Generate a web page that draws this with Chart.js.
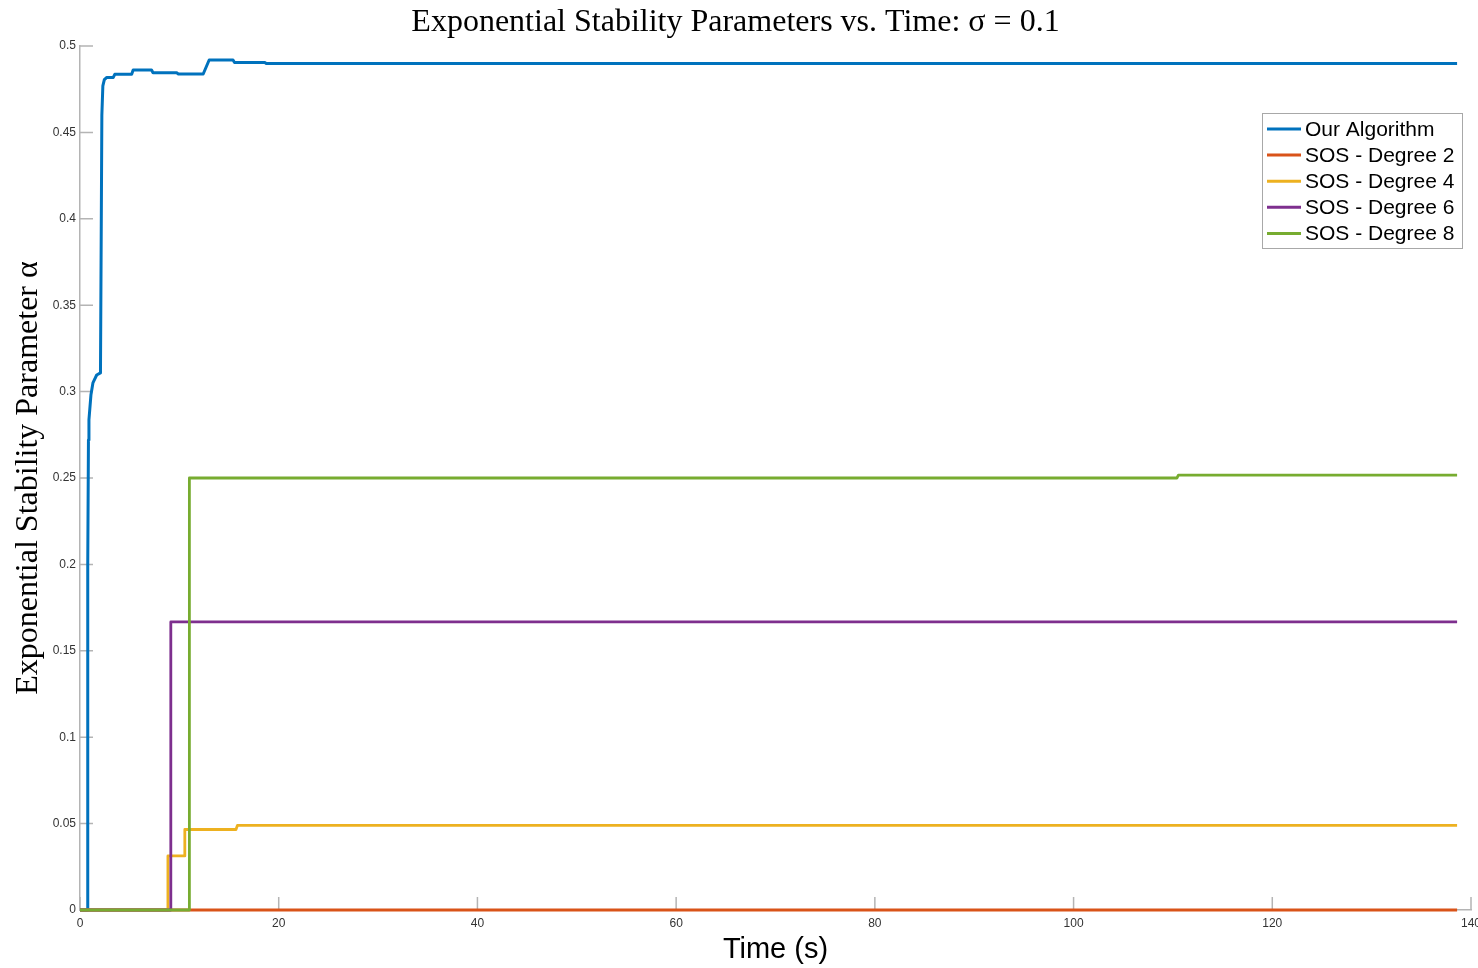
<!DOCTYPE html>
<html>
<head>
<meta charset="utf-8">
<title>Exponential Stability Parameters vs. Time</title>
<script src="https://cdn.jsdelivr.net/npm/chart.js@4.4.1/dist/chart.umd.min.js"></script>
<style>
  html, body { margin: 0; padding: 0; background: #ffffff; }
  #wrap { width: 1478px; height: 968px; position: relative; }
</style>
</head>
<body>
<div id="wrap"><canvas id="c" width="1478" height="968"></canvas></div>
<script>
// ---- data: time (s) and exponential stability parameter alpha ----
const seriesNames = ['Our Algorithm', 'SOS - Degree 2', 'SOS - Degree 4', 'SOS - Degree 6', 'SOS - Degree 8'];
const seriesColors = ['#0072BD', '#D95319', '#EDB120', '#7E2F8E', '#77AC30'];

const tOurs = [0, 0.73, 0.78, 0.85, 0.9, 1.1, 1.3, 1.68, 2.06, 2.2, 2.3, 2.45, 2.7, 3.35, 3.5, 5.2, 5.35, 7.2, 7.35, 9.73, 9.9, 12.4, 13.0, 15.4, 15.55, 18.6, 18.75, 138.6];
const aOurs = [0, 0, 0.2, 0.272, 0.2836, 0.298, 0.305, 0.3096, 0.3108, 0.46, 0.4769, 0.4805, 0.4818, 0.4818, 0.4836, 0.4836, 0.4861, 0.4861, 0.4845, 0.4845, 0.4838, 0.4838, 0.4919, 0.4919, 0.4905, 0.4905, 0.4899, 0.4899];

const tDeg2 = [0, 138.6];
const aDeg2 = [0, 0];

const tDeg4 = [0, 8.8, 8.85, 10.5, 10.55, 15.7, 15.85, 138.6];
const aDeg4 = [0, 0, 0.0313, 0.0313, 0.0466, 0.0466, 0.049, 0.049];

const tDeg6 = [0, 9.13, 9.14, 138.6];
const aDeg6 = [0, 0, 0.1667, 0.1667];

const tDeg8 = [0, 11.0, 11.01, 110.4, 110.55, 138.6];
const aDeg8 = [0, 0, 0.25, 0.25, 0.2517, 0.2517];

const seriesTimes = [tOurs, tDeg2, tDeg4, tDeg6, tDeg8];
const seriesValues = [aOurs, aDeg2, aDeg4, aDeg6, aDeg8];

const xTicks = [0, 20, 40, 60, 80, 100, 120, 140];
const xTickLabels = ['0', '20', '40', '60', '80', '100', '120', '140'];
const yTicks = [0, 0.05, 0.1, 0.15, 0.2, 0.25, 0.3, 0.35, 0.4, 0.45, 0.5];
const yTickLabels = ['0', '0.05', '0.1', '0.15', '0.2', '0.25', '0.3', '0.35', '0.4', '0.45', '0.5'];

const titleText = 'Exponential Stability Parameters vs. Time: σ = 0.1';
const xTitle = 'Time (s)';
const yTitle = 'Exponential Stability Parameter α';

// ---- styling ----
const AXIS_GRAY = '#b4b4b4';
const TICK_COLOR = '#333333';
const SANS = '"Liberation Sans", Arial, Helvetica, sans-serif';
const SERIF = '"Liberation Serif", "Times New Roman", serif';

const datasets = seriesNames.map((name, i) => ({
  label: name,
  data: seriesTimes[i].map((t, k) => ({ x: t, y: seriesValues[i][k] })),
  borderColor: seriesColors[i],
  backgroundColor: seriesColors[i],
  borderWidth: i === 0 ? 3 : 2.8,
  pointRadius: 0,
  tension: 0,
  fill: false,
  clip: false,
  borderJoinStyle: 'round',
  // later series sit on top of earlier ones
  order: seriesNames.length - 1 - i
}));

// tick marks drawn inward from the axes
const inwardTicks = {
  id: 'inwardTicks',
  beforeDatasetsDraw(chart) {
    const { ctx, chartArea } = chart;
    const len = 13;
    ctx.save();
    ctx.strokeStyle = AXIS_GRAY;
    ctx.lineWidth = 1.5;
    ctx.beginPath();
    chart.scales.x.ticks.forEach(t => {
      const px = chart.scales.x.getPixelForValue(t.value);
      ctx.moveTo(px, chartArea.bottom);
      ctx.lineTo(px, chartArea.bottom - len);
    });
    chart.scales.y.ticks.forEach(t => {
      const py = chart.scales.y.getPixelForValue(t.value);
      ctx.moveTo(chartArea.left, py);
      ctx.lineTo(chartArea.left + len, py);
    });
    ctx.stroke();
    ctx.restore();
  }
};

// boxed legend in the upper right of the plot
const boxLegend = {
  id: 'boxLegend',
  afterDraw(chart) {
    const { ctx } = chart;
    const x0 = 1262, y0 = 113, w = 200, h = 135;
    const rowY = 129, rowStep = 26.1;
    ctx.save();
    ctx.fillStyle = '#ffffff';
    ctx.fillRect(x0, y0, w, h);
    ctx.strokeStyle = '#a8a8a8';
    ctx.lineWidth = 1;
    ctx.strokeRect(x0 + 0.5, y0 + 0.5, w, h);
    ctx.font = '21px ' + SANS;
    ctx.textBaseline = 'middle';
    ctx.textAlign = 'left';
    chart.data.datasets.forEach((ds, i) => {
      const y = rowY + i * rowStep;
      ctx.strokeStyle = ds.borderColor;
      ctx.lineWidth = 3;
      ctx.beginPath();
      ctx.moveTo(x0 + 5, y);
      ctx.lineTo(x0 + 39, y);
      ctx.stroke();
      ctx.fillStyle = '#000000';
      ctx.fillText(ds.label, x0 + 43, y + 1);
    });
    ctx.restore();
  }
};

new Chart(document.getElementById('c'), {
  type: 'line',
  data: { datasets },
  plugins: [inwardTicks, boxLegend],
  options: {
    responsive: false,
    devicePixelRatio: 1,
    animation: false,
    layout: { padding: { left: 0, right: 7, top: 0, bottom: 0 } },
    plugins: {
      legend: { display: false },
      tooltip: { enabled: false },
      title: {
        display: true,
        text: titleText,
        color: '#000000',
        font: { family: SERIF, size: 32, weight: 'normal', lineHeight: 1.2 },
        padding: { top: 3, bottom: 4.6 }
      }
    },
    scales: {
      x: {
        type: 'linear',
        min: 0,
        max: 140,
        afterBuildTicks: s => { s.ticks = xTicks.map(v => ({ value: v })); },
        afterFit: s => { s.height = 58; s.paddingRight = 0; s.paddingLeft = 0; },
        grid: { display: false, drawTicks: false },
        border: { display: true, color: AXIS_GRAY, width: 1.5 },
        ticks: {
          autoSkip: false,
          maxRotation: 0,
          padding: 6,
          color: TICK_COLOR,
          font: { family: SANS, size: 12 },
          callback: (v, i) => xTickLabels[i]
        },
        title: {
          display: true,
          text: xTitle,
          color: '#000000',
          font: { family: SANS, size: 29, lineHeight: 1.2 },
          padding: { top: 0, bottom: 1 }
        }
      },
      y: {
        min: 0,
        max: 0.5,
        afterBuildTicks: s => { s.ticks = yTicks.map(v => ({ value: v })); },
        afterFit: s => { s.width = 80; s.paddingTop = 0; s.paddingBottom = 0; },
        grid: { display: false, drawTicks: false },
        border: { display: true, color: AXIS_GRAY, width: 1.5 },
        ticks: {
          autoSkip: false,
          padding: 4,
          color: TICK_COLOR,
          font: { family: SANS, size: 12 },
          callback: (v, i) => yTickLabels[i]
        },
        title: {
          display: true,
          text: yTitle,
          color: '#000000',
          font: { family: SERIF, size: 32, lineHeight: 1.2 },
          padding: { top: 9, bottom: 0 }
        }
      }
    }
  }
});
</script>
</body>
</html>
